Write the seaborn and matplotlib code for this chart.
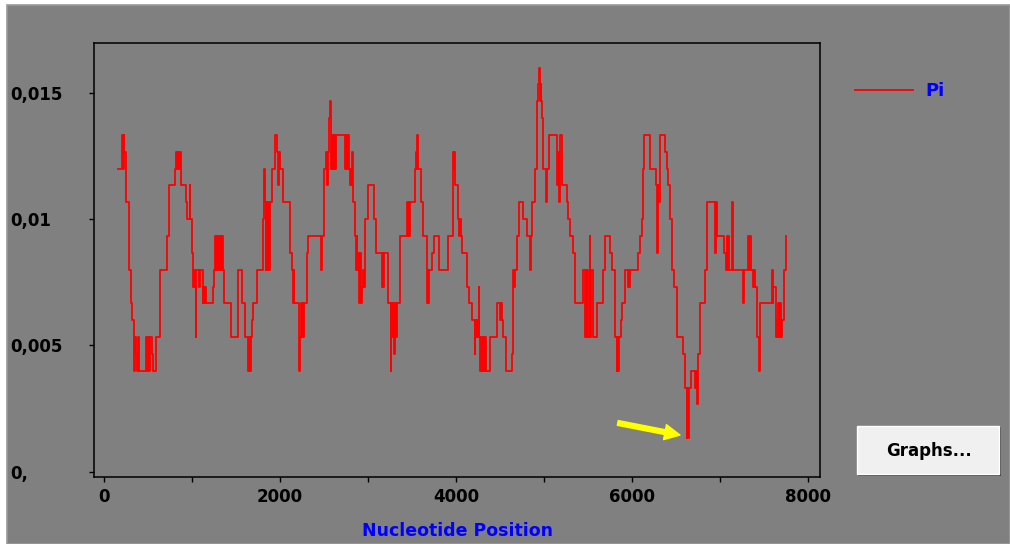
import matplotlib
matplotlib.use('Agg')
import matplotlib.pyplot as plt
from matplotlib.patches import Rectangle
import seaborn as sns

# sliding-window nucleotide diversity (Pi)
pos_a = [163, 200, 212, 222, 231, 250, 288, 303, 322, 341,
         350, 360, 372, 382, 392, 402, 478, 490, 502, 514,
         526, 540, 552, 588, 637, 720, 739, 807, 818, 828,
         838, 848, 860, 872, 929, 948, 972, 980, 1000, 1008,
         1016, 1025, 1034, 1042, 1048, 1075, 1085, 1122, 1130, 1140,
         1150, 1160, 1236, 1251, 1258, 1270, 1280, 1292, 1304, 1316,
         1328, 1340, 1346, 1357, 1364, 1448, 1527, 1573, 1603, 1641,
         1650, 1660, 1670, 1679, 1698, 1736, 1804, 1819, 1826, 1836,
         1846, 1856, 1866, 1876, 1887, 1906, 1944, 1971, 1982, 1990,
         2001, 2039, 2115, 2134, 2144, 2154, 2164, 2210, 2218, 2225,
         2235, 2245, 2255, 2265, 2275, 2301, 2320, 2464, 2472, 2498,
         2528, 2538, 2545, 2555, 2566, 2574, 2584, 2594, 2604, 2614,
         2624, 2634]
pi_a = [0.012, 0.01333, 0.012, 0.01333, 0.01267, 0.01067, 0.008, 0.00667, 0.006, 0.004,
        0.00533, 0.00467, 0.004, 0.00533, 0.00467, 0.004, 0.00533, 0.004, 0.00533, 0.004,
        0.00533, 0.00467, 0.004, 0.00533, 0.008, 0.00933, 0.01133, 0.012, 0.01267, 0.012,
        0.01267, 0.012, 0.01267, 0.01133, 0.01067, 0.01, 0.01133, 0.01, 0.00867, 0.008,
        0.00733, 0.008, 0.00733, 0.00533, 0.008, 0.00733, 0.008, 0.00667, 0.00733, 0.00667,
        0.00733, 0.00667, 0.00733, 0.008, 0.00933, 0.008, 0.00933, 0.008, 0.00933, 0.008,
        0.00933, 0.008, 0.00933, 0.008, 0.00667, 0.00533, 0.008, 0.00667, 0.00533, 0.004,
        0.00533, 0.004, 0.00533, 0.006, 0.00667, 0.008, 0.01, 0.012, 0.01067, 0.008,
        0.01067, 0.008, 0.01067, 0.008, 0.01067, 0.012, 0.01333, 0.01267, 0.01133, 0.01267,
        0.012, 0.01067, 0.00867, 0.008, 0.00667, 0.008, 0.00667, 0.00533, 0.004, 0.00533,
        0.00667, 0.00533, 0.00667, 0.00533, 0.00667, 0.00867, 0.00933, 0.008, 0.00933, 0.012,
        0.01267, 0.01133, 0.01267, 0.014, 0.01467, 0.01333, 0.012, 0.01333, 0.012, 0.01333,
        0.012, 0.01333]

pos_b = [2739, 2748, 2758, 2770, 2782, 2795, 2808, 2816, 2822, 2826,
         2852, 2862, 2872, 2880, 2890, 2900, 2910, 2920, 2928, 2940,
         2952, 2966, 3004, 3068, 3087, 3155, 3165, 3175, 3185, 3231,
         3258, 3265, 3275, 3285, 3295, 3305, 3315, 3326, 3364, 3439,
         3450, 3460, 3470, 3480, 3534, 3545, 3555, 3561, 3572, 3598,
         3629, 3667, 3676, 3686, 3696, 3727, 3746, 3803, 3913, 3962,
         3972, 3980, 3989, 4026, 4036, 4046, 4056, 4064, 4121, 4152,
         4178, 4214, 4220, 4232, 4242, 4252, 4259, 4264, 4274, 4284,
         4294, 4306, 4318, 4330, 4340, 4386, 4462, 4500, 4510, 4520,
         4538, 4568, 4633, 4652, 4660, 4671, 4689, 4720, 4765, 4803,
         4841, 4848, 4860, 4898, 4924, 4935, 4944, 4950, 4960, 4968,
         4973, 4984, 4992, 5023, 5030, 5060, 5144, 5152, 5160, 5168,
         5176, 5182, 5208, 5258, 5277, 5296, 5326, 5352]
pi_b = [0.012, 0.01333, 0.012, 0.01333, 0.012, 0.01133, 0.012, 0.01133, 0.01267, 0.01067,
        0.00933, 0.008, 0.00933, 0.008, 0.00867, 0.00667, 0.00867, 0.00667, 0.00733, 0.008,
        0.00733, 0.01, 0.01133, 0.01, 0.00867, 0.00733, 0.00867, 0.00733, 0.00867, 0.00667,
        0.004, 0.00667, 0.00533, 0.00667, 0.00467, 0.00667, 0.00533, 0.00667, 0.00933, 0.01067,
        0.00933, 0.01067, 0.00933, 0.01067, 0.012, 0.01267, 0.012, 0.01333, 0.012, 0.01067,
        0.00933, 0.00667, 0.008, 0.00667, 0.008, 0.00867, 0.00933, 0.008, 0.00933, 0.01267,
        0.012, 0.01267, 0.01133, 0.01, 0.00933, 0.01, 0.00933, 0.00867, 0.00733, 0.00667,
        0.006, 0.00467, 0.006, 0.00533, 0.006, 0.00533, 0.00733, 0.00533, 0.004, 0.00533,
        0.004, 0.00533, 0.004, 0.00533, 0.004, 0.00533, 0.00667, 0.006, 0.00667, 0.006,
        0.00533, 0.004, 0.00467, 0.008, 0.00733, 0.008, 0.00933, 0.01067, 0.01, 0.00933,
        0.008, 0.00933, 0.01067, 0.012, 0.01467, 0.01533, 0.016, 0.01467, 0.01533, 0.01467,
        0.014, 0.01333, 0.012, 0.01067, 0.012, 0.01333, 0.01267, 0.01133, 0.01267, 0.01067,
        0.01267, 0.01333, 0.01133, 0.01067, 0.01, 0.00933, 0.00867, 0.00667]

pos_c = [5447, 5466, 5474, 5482, 5490, 5498, 5520, 5526, 5530, 5553,
         5606, 5674, 5693, 5750, 5769, 5807, 5826, 5834, 5842, 5856,
         5871, 5890, 5920, 5955, 5962, 5970, 5977, 6072, 6091, 6110,
         6125, 6135, 6205, 6273, 6280, 6290, 6299, 6318, 6375, 6394,
         6413, 6432, 6451, 6477, 6515, 6583, 6602, 6621, 6630, 6638,
         6648, 6667, 6715, 6722, 6730, 6735, 6740, 6746, 6773, 6830,
         6848, 6943, 6952, 6962, 7045, 7068, 7076, 7086, 7096, 7106,
         7136, 7142, 7265, 7275, 7322, 7332, 7342, 7352, 7375, 7385,
         7398, 7424, 7445, 7452, 7587, 7600, 7606, 7633, 7643, 7653,
         7663, 7673, 7683, 7693, 7708, 7727, 7746, 7752]
pi_c = [0.008, 0.00533, 0.008, 0.00533, 0.008, 0.00533, 0.00933, 0.00533, 0.008, 0.00533,
        0.00667, 0.008, 0.00933, 0.00867, 0.008, 0.00533, 0.004, 0.00533, 0.004, 0.00533,
        0.006, 0.00667, 0.008, 0.00733, 0.008, 0.00733, 0.008, 0.00867, 0.00933, 0.01,
        0.012, 0.01333, 0.012, 0.01133, 0.00867, 0.01133, 0.01067, 0.01333, 0.01267, 0.012,
        0.01133, 0.01, 0.008, 0.00733, 0.00533, 0.00467, 0.00333, 0.00133, 0.00333, 0.00133,
        0.00333, 0.004, 0.00333, 0.004, 0.00333, 0.004, 0.00267, 0.00467, 0.00667, 0.008,
        0.01067, 0.00867, 0.01067, 0.00933, 0.00867, 0.008, 0.00933, 0.008, 0.00933, 0.008,
        0.01067, 0.008, 0.00667, 0.008, 0.00933, 0.008, 0.00933, 0.008, 0.00733, 0.008,
        0.00733, 0.00533, 0.004, 0.00667, 0.008, 0.00667, 0.00733, 0.00533, 0.006, 0.00533,
        0.00667, 0.00533, 0.00667, 0.00533, 0.006, 0.008, 0.00933, 0.00933]

position = pos_a + pos_b + pos_c
pi = pi_a + pi_b + pi_c

x_ticks = [0, 2000, 4000, 6000, 8000]
y_ticks = [0, 0.005, 0.01, 0.015]
y_labels = ['0,', '0,005', '0,01', '0,015']

W, H = 1010, 544
GRAY = '#808080'

fig = plt.figure(figsize=(W / 100, H / 100), dpi=100, facecolor='white')
# gray window panel, kept behind the axes
fig.patches.append(Rectangle((7 / W, 0), 1 - 7 / W, 1 - 5 / H, transform=fig.transFigure,
                             facecolor=GRAY, edgecolor='#9a9a9a', lw=1.2, zorder=-10))

ax = fig.add_axes([94 / W, 1 - 477 / H, 726 / W, 434 / H])
ax.set_facecolor(GRAY)

sns.lineplot(x=position, y=pi, ax=ax, color='red', linewidth=1.3,
             drawstyle='steps-post', estimator=None, sort=False, label='Pi')

ax.set_xlim(-114, 8136)
ax.set_ylim(-0.00021, 0.01697)

for s in ax.spines.values():
    s.set_color('black')
    s.set_linewidth(1.1)

ax.set_xticks(x_ticks)
ax.set_xticks([1000, 3000, 5000, 7000], minor=True)
ax.set_yticks(y_ticks, labels=y_labels)
for lbl in ax.get_yticklabels():
    lbl.set_horizontalalignment('left')
ax.tick_params(axis='both', which='both', direction='out', length=3.6, width=1.0,
               color='black', labelsize=12, labelcolor='black')
ax.tick_params(axis='y', pad=57)
ax.tick_params(axis='x', pad=4)
for lbl in ax.get_xticklabels() + ax.get_yticklabels():
    lbl.set_fontweight('bold')

ax.set_xlabel('Nucleotide Position', color='blue', fontsize=12.5, fontweight='bold',
              labelpad=12)
ax.set_ylabel('')

leg = ax.legend(loc='center left', bbox_to_anchor=(846 / W, 1 - 91 / H),
                bbox_transform=fig.transFigure, frameon=False, borderpad=0,
                handlelength=3.2, handletextpad=0.7, prop={'size': 13, 'weight': 'bold'})
for t in leg.get_texts():
    t.set_color('blue')

# arrow marking the minimum
ax.annotate('', xy=(6545, 0.00145), xytext=(5838, 0.00193),
            arrowprops=dict(facecolor='yellow', edgecolor='yellow', width=3.5,
                            headwidth=11, headlength=11))

# "Graphs..." button with a flat 3D edge
fig.patches.append(Rectangle((858 / W, 1 - 476 / H), 143 / W, 49 / H, transform=fig.transFigure,
                             facecolor='#404040', edgecolor='none', zorder=1))
fig.patches.append(Rectangle((857 / W, 1 - 474 / H), 142 / W, 48 / H, transform=fig.transFigure,
                             facecolor='#f0f0f0', edgecolor='#ffffff', lw=1.0, zorder=2))
fig.text(929 / W, 1 - 451 / H, 'Graphs...', ha='center', va='center',
         fontsize=12, fontweight='bold', color='black')

fig.savefig('out.png', dpi=100, facecolor=fig.get_facecolor())
